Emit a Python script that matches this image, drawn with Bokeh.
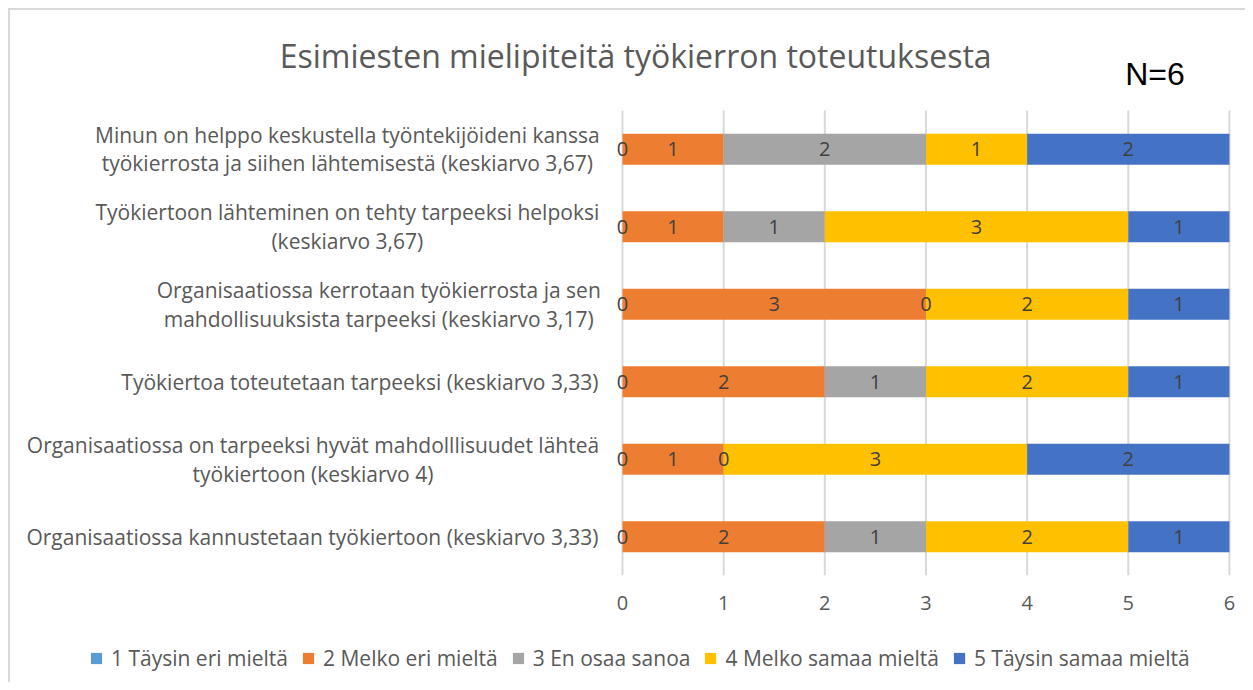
from bokeh.plotting import figure
from bokeh.layouts import column
from bokeh.models import Label, Legend, LegendItem, FixedTicker, ColumnDataSource, Range1d
from bokeh.core.properties import value
from bokeh.embed import file_html
from bokeh.resources import INLINE

# ---------------- data ----------------
questions = [
    "Minun on helppo keskustella työntekijöideni kanssa\ntyökierrosta ja siihen lähtemisestä (keskiarvo 3,67)",
    "Työkiertoon lähteminen on tehty tarpeeksi helpoksi\n(keskiarvo 3,67)",
    "Organisaatiossa kerrotaan työkierrosta ja sen\nmahdollisuuksista tarpeeksi (keskiarvo 3,17)",
    "Työkiertoa toteutetaan tarpeeksi (keskiarvo 3,33)",
    "Organisaatiossa on tarpeeksi hyvät mahdolllisuudet lähteä\ntyökiertoon (keskiarvo 4)",
    "Organisaatiossa kannustetaan työkiertoon (keskiarvo 3,33)",
]
series_names = ["1 Täysin eri mieltä", "2 Melko eri mieltä", "3 En osaa sanoa",
                "4 Melko samaa mieltä", "5 Täysin samaa mieltä"]
s1 = [0, 0, 0, 0, 0, 0]
s2 = [1, 1, 3, 2, 1, 2]
s3 = [2, 1, 0, 1, 0, 1]
s4 = [1, 3, 2, 2, 3, 2]
s5 = [2, 1, 1, 1, 2, 1]
x_ticks = [0, 1, 2, 3, 4, 5, 6]
title_text = "Esimiesten mielipiteitä työkierron toteutuksesta"
note_text = "N=6"

colors = ["#5B9BD5", "#ED7D31", "#A5A5A5", "#FFC000", "#4472C4"]
series = [s1, s2, s3, s4, s5]

n = len(questions)
ypos = [n - 1 - i for i in range(n)]  # first question on top

FONT = "Open Sans"
GREY = "#595959"

p = figure(width=1235, height=627, output_backend="svg", toolbar_location=None,
           x_range=Range1d(-6.05, 6.05), y_range=Range1d(-0.5, 6.79),
           min_border_left=0, min_border_right=11, min_border_top=0, min_border_bottom=62,
           title=None)
p.outline_line_color = None
p.background_fill_color = "white"
p.border_fill_color = "white"
p.grid.visible = False

# vertical gridlines only across the bar area
p.segment(x0=x_ticks, x1=x_ticks, y0=-0.5, y1=n - 0.5, line_color="#D9D9D9",
          line_width=2, level="underlay")

# axes
p.yaxis.visible = False
p.xaxis.ticker = FixedTicker(ticks=x_ticks)
p.xaxis.axis_line_color = None
p.xaxis.major_tick_line_color = None
p.xaxis.minor_tick_line_color = None
p.xaxis.major_tick_out = 0
p.xaxis.major_label_text_font = FONT
p.xaxis.major_label_text_font_size = "20px"
p.xaxis.major_label_text_color = GREY
p.xaxis.major_label_standoff = 20

# stacked bars
data = {"y": ypos}
for i, s in enumerate(series):
    data[f"s{i}"] = s
src = ColumnDataSource(data)
keys = [f"s{i}" for i in range(len(series))]
renderers = p.hbar_stack(keys, y="y", height=0.4, color=colors, source=src, line_width=0)

# data labels
lx, ly, lt = [], [], []
for r in range(n):
    left = 0
    for s in series:
        v = s[r]
        lx.append(left + v / 2)
        ly.append(ypos[r])
        lt.append(str(v))
        left += v
p.text(x=lx, y=ly, text=lt, text_align="center", text_baseline="middle",
       text_font=value(FONT), text_font_size="20px", text_color="#404040")

# category labels (two-line labels centred on their block)
label_centers = [-2.72, -2.72, -2.41, None, -3.06, None]
for r, q in enumerate(questions):
    if "\n" in q:
        p.add_layout(Label(x=label_centers[r], y=ypos[r], text=q, text_align="center",
                           text_baseline="middle", text_font=FONT, text_font_size="21px",
                           text_color=GREY, text_line_height=1.02))
    else:
        p.add_layout(Label(x=-0.237, y=ypos[r], text=q, text_align="right",
                           text_baseline="middle", text_font=FONT, text_font_size="21px",
                           text_color=GREY))

# title and note
p.add_layout(Label(x=0.13, y=6.21, text=title_text, text_align="center", text_baseline="middle",
                   text_font=FONT, text_font_size="32px", text_color=GREY))
p.add_layout(Label(x=4.97, y=5.966, text=note_text, text_align="left", text_baseline="alphabetic",
                   text_font="Liberation Sans", text_font_size="32px", text_color="black"))

# legend strip (second figure); swatch renderers sit outside the visible range
p2 = figure(width=1235, height=45, output_backend="svg", toolbar_location=None,
            x_range=Range1d(0, 1), y_range=Range1d(0, 1),
            min_border_left=0, min_border_right=0, min_border_top=0, min_border_bottom=0,
            title=None)
p2.axis.visible = False
p2.grid.visible = False
p2.outline_line_color = None
p2.border_fill_color = "white"
swatches = [p2.hbar(y=[-10], left=[0], right=[1], height=0.4, fill_color=c, line_color=None)
            for c in colors]
items = [LegendItem(label=name, renderers=[rend]) for name, rend in zip(series_names, swatches)]
legend = Legend(items=items, orientation="horizontal", location=(79, 10),
                label_text_font=FONT, label_text_font_size="21px", label_text_color=GREY,
                glyph_width=14, glyph_height=14, label_standoff=8, spacing=13,
                padding=0, margin=0, border_line_color=None, background_fill_alpha=0)
p2.add_layout(legend, "center")

layout = column(p, p2, spacing=0,
                styles={"margin-left": "8px", "margin-top": "8px",
                        "border-top": "2px solid #D9D9D9", "border-left": "2px solid #D9D9D9"})

open("out.html", "w").write(file_html(layout, INLINE))
